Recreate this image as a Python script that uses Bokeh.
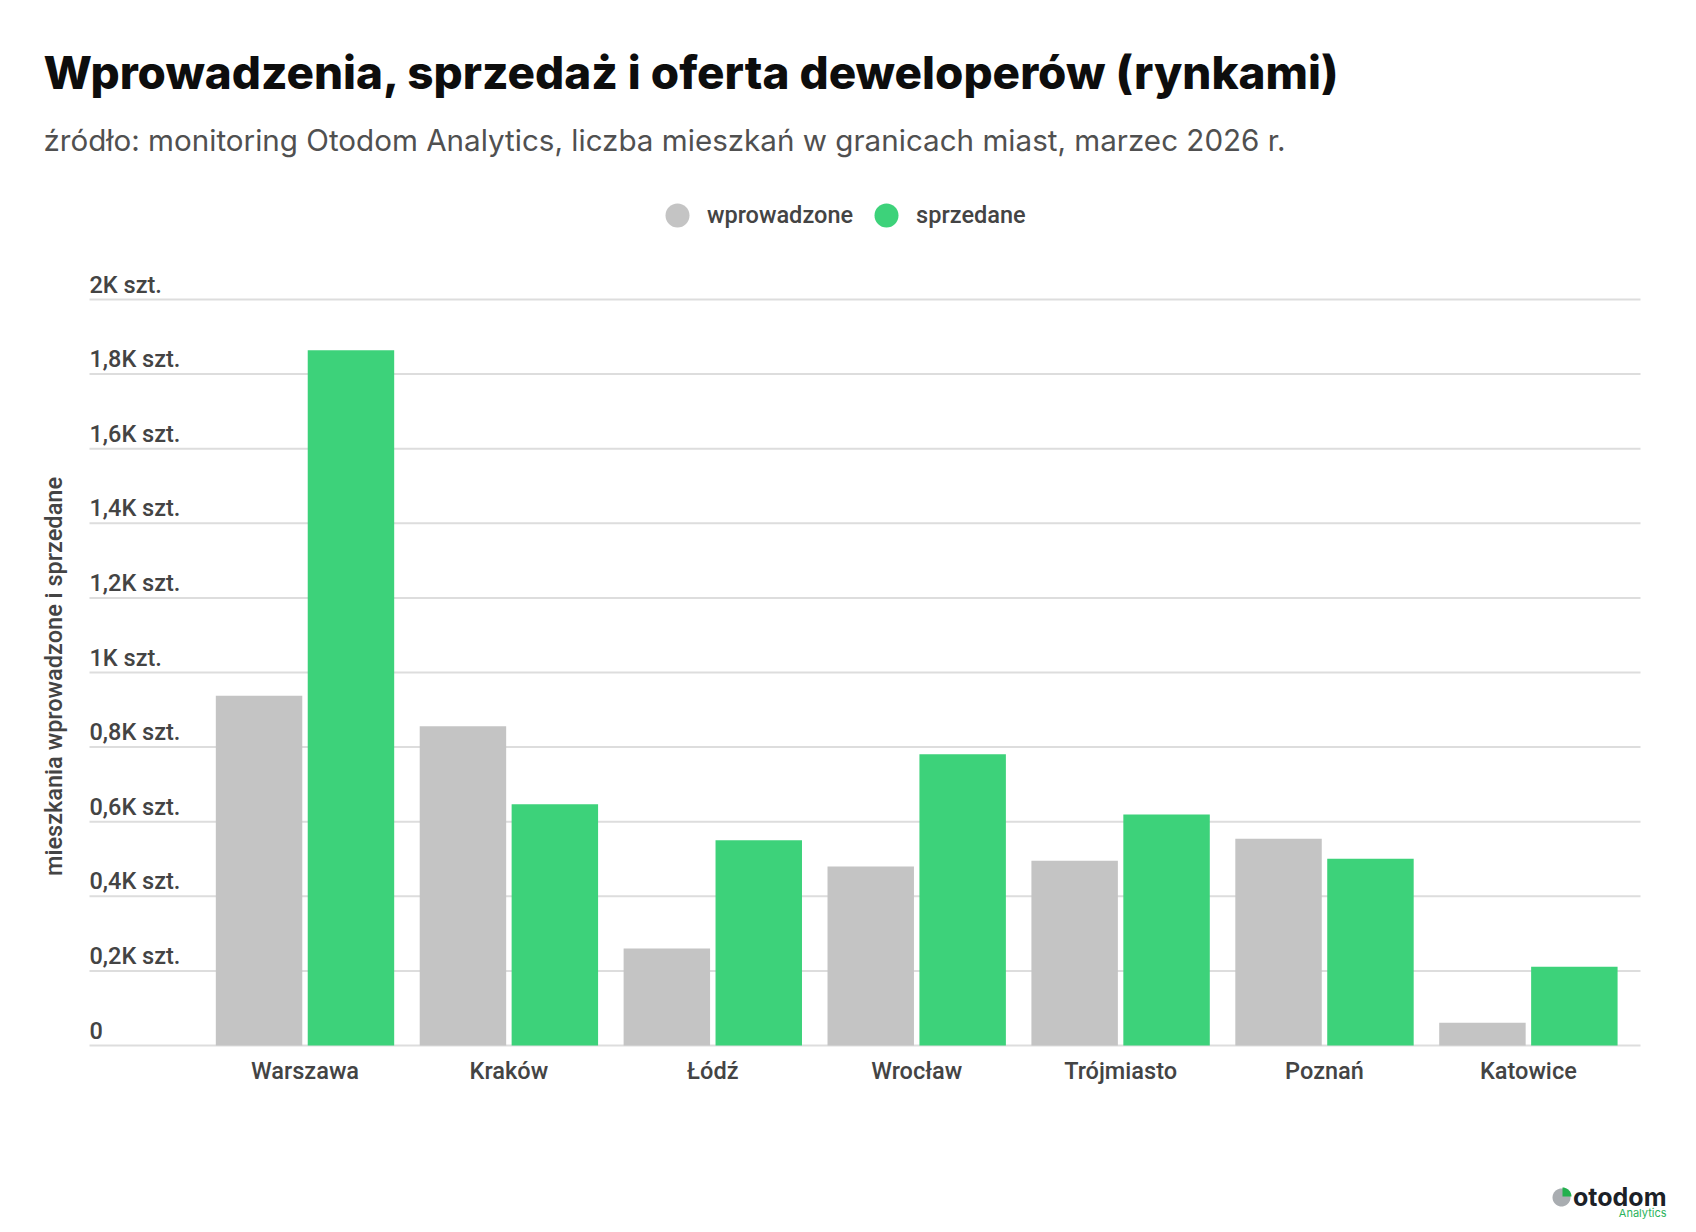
import math
from bokeh.plotting import figure
from bokeh.models import Range1d, Label, Legend, LegendItem, ColumnDataSource, PolyAnnotation
from bokeh.core.properties import value
from bokeh.embed import file_html
from bokeh.resources import INLINE

# ---- data ----
cities = ["Warszawa", "Kraków", "Łódź", "Wrocław", "Trójmiasto", "Poznań", "Katowice"]
wprowadzone = [938, 856, 260, 480, 495, 554, 61]
sprzedane = [1864, 647, 550, 781, 619, 501, 211]
y_ticks = [0, 200, 400, 600, 800, 1000, 1200, 1400, 1600, 1800, 2000]
y_tick_labels = ["0", "0,2K szt.", "0,4K szt.", "0,6K szt.", "0,8K szt.", "1K szt.",
                 "1,2K szt.", "1,4K szt.", "1,6K szt.", "1,8K szt.", "2K szt."]
series_names = ["wprowadzone", "sprzedane"]

title_text = "Wprowadzenia, sprzedaż i oferta deweloperów (rynkami)"
subtitle_text = "źródło: monitoring Otodom Analytics, liczba mieszkań w granicach miast, marzec 2026 r."
y_title = "mieszkania wprowadzone i sprzedane"

# ---- style / layout ----
GRAY = "#c4c4c4"
GREEN = "#3dd27a"
TXT = "#444444"
FONT = "Roboto Medium, Roboto"
W, H = 1696, 1232
PX_CAT0, PX_STEP = 304.5, 203.9      # first category centre, category pitch (px)
PX_Y0, PX_PER_UNIT = 1045.0, 0.373    # baseline position, pixels per unit
GRID_L, GRID_R = 89.0, 1640.0

x_start = -PX_CAT0 / PX_STEP
x_end = (W - PX_CAT0) / PX_STEP
y_end = PX_Y0 / PX_PER_UNIT
y_start = -(H - PX_Y0) / PX_PER_UNIT
gx0 = (GRID_L - PX_CAT0) / PX_STEP
gx1 = (GRID_R - PX_CAT0) / PX_STEP

p = figure(width=W, height=H, output_backend="svg", toolbar_location=None,
           x_range=Range1d(x_start, x_end), y_range=Range1d(y_start, y_end),
           x_axis_location=None, y_axis_location=None,
           min_border=0, min_border_left=0, min_border_right=0,
           min_border_top=0, min_border_bottom=0)
p.outline_line_color = None
p.background_fill_color = "white"
p.border_fill_color = "white"
p.grid.visible = False

# gridlines (value axis)
n = len(y_ticks)
p.segment(x0=[gx0] * n, x1=[gx1] * n, y0=y_ticks, y1=y_ticks,
          line_color="#dddddd", line_width=2)

idx = list(range(len(cities)))
src = ColumnDataSource(dict(
    xg=[i - 0.2254 for i in idx], xs=[i + 0.2254 for i in idx],
    w=wprowadzone, s=sprzedane))
p.vbar(x="xg", top="w", bottom=0, width=0.424, source=src, fill_color=GRAY, line_color=None)
p.vbar(x="xs", top="s", bottom=0, width=0.424, source=src, fill_color=GREEN, line_color=None)

# y tick labels inside the plot, above gridlines
p.text(x=[gx0] * n, y=y_ticks, text=y_tick_labels,
       text_font=value(FONT), text_font_size="23.5px", text_color=TXT,
       text_align="left", text_baseline="alphabetic", y_offset=-15)

# category labels
p.text(x=idx, y=[0] * len(idx), text=cities,
       text_font=value(FONT), text_font_size="23.5px", text_color=TXT,
       text_align="center", text_baseline="alphabetic", y_offset=25)

# legend (hidden scatter proxies of the two series give round legend markers)
r1 = p.scatter(x="xg", y="w", source=src, marker="circle", size=10,
               fill_color=GRAY, line_color=None, visible=False)
r2 = p.scatter(x="xs", y="s", source=src, marker="circle", size=10,
               fill_color=GREEN, line_color=None, visible=False)
leg = Legend(items=[LegendItem(label=series_names[0], renderers=[r1]),
                    LegendItem(label=series_names[1], renderers=[r2])],
             orientation="horizontal", location=(647, H - 245),
             glyph_width=60, glyph_height=60, label_standoff=0, spacing=3,
             padding=0, margin=0, border_line_color=None, background_fill_alpha=0,
             label_text_font=FONT, label_text_font_size="23.5px", label_text_color=TXT)
p.add_layout(leg, "center")

p.add_layout(Label(x=43, y=H - 72, x_units="screen", y_units="screen", text=title_text,
                   text_font="Inter ExtraBold, Inter", text_font_style="bold", text_font_size="45.8px",
                   text_color="#0d0d0d", text_baseline="middle", text_align="left"))
p.add_layout(Label(x=43, y=H - 139, x_units="screen", y_units="screen", text=subtitle_text,
                   text_font="Inter", text_font_size="29.6px",
                   text_color="#505050", text_baseline="middle", text_align="left"))
p.add_layout(Label(x=53, y=H - 676, x_units="screen", y_units="screen", text=y_title,
                   angle=math.pi / 2, text_font=FONT, text_font_size="23.5px",
                   text_color=TXT, text_baseline="middle", text_align="center"))

# logo
p.add_layout(Label(x=1666, y=H - 1196, x_units="screen", y_units="screen", text="otodom",
                   text_font="Inter", text_font_style="bold", text_font_size="25px",
                   text_color="#1c2127", text_baseline="middle", text_align="right"))
p.add_layout(Label(x=1666, y=H - 1212, x_units="screen", y_units="screen", text="Analytics",
                   text_font="Inter", text_font_size="11px",
                   text_color="#2bb35c", text_baseline="middle", text_align="right"))
cx, cy, rr = 1561, H - 1197, 9
circ_x = [cx + rr * math.cos(2 * math.pi * k / 40) for k in range(40)]
circ_y = [cy + rr * math.sin(2 * math.pi * k / 40) for k in range(40)]
p.add_layout(PolyAnnotation(xs=circ_x, ys=circ_y, xs_units="screen", ys_units="screen",
                            fill_color="#a9adb1", fill_alpha=1, line_color=None))
q_x = [cx + 1] + [cx + 1 + rr * math.cos(math.pi / 2 * k / 10) for k in range(11)]
q_y = [cy + 1] + [cy + 1 + rr * math.sin(math.pi / 2 * k / 10) for k in range(11)]
p.add_layout(PolyAnnotation(xs=q_x, ys=q_y, xs_units="screen", ys_units="screen",
                            fill_color="#23b04e", fill_alpha=1, line_color=None))

open("out.html", "w").write(file_html(p, INLINE))
